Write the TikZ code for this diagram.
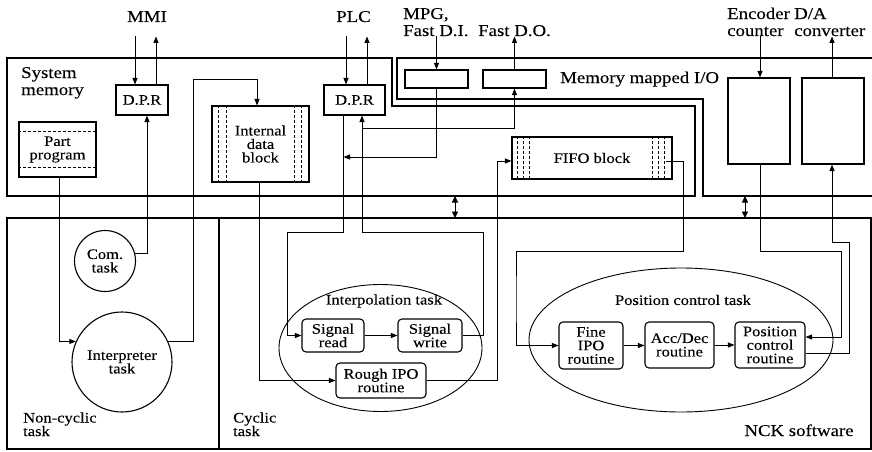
\documentclass[tikz,border=0pt]{standalone}
\usepackage{fontspec}
\setmainfont[FakeStretch=1.14,FakeBold=0.15]{Liberation Serif}
\usetikzlibrary{arrows.meta,shapes.geometric}
\newcommand\lblfont{\fontsize{16.5}{17}\selectfont}
\newcommand\innerfont{\fontsize{14.5}{13.5}\selectfont}
\tikzset{
  region/.style={line width=1.5pt},
  conn/.style={line width=0.9pt},
  arr/.style={conn,-{Triangle[length=6.5pt,width=5pt]}},
  dbl/.style={conn,{Triangle[length=6.5pt,width=6pt]}-{Triangle[length=6.5pt,width=6pt]}},
  box/.style={draw,line width=1.1pt,inner sep=0pt,align=center,font=\innerfont},
  rbox/.style={box,rounded corners=4pt},
  oval/.style={draw,line width=0.9pt,ellipse,inner sep=0pt},
  dsh/.style={dashed,line width=0.8pt,dash pattern=on 3pt off 2pt},
  lbl/.style={inner sep=0pt,font=\lblfont},
  ilbl/.style={inner sep=0pt,font=\innerfont,align=left},
}
\begin{document}
\begin{tikzpicture}[x=1pt,y=-1pt]
\useasboundingbox (0,0) rectangle (872,452);
% regions
\draw[region] (7,58) -- (392,58) -- (392,106) -- (695,106) -- (695,196) -- (7,196) -- cycle;
\draw[region] (872,58) -- (397,58) -- (397,99) -- (703,99) -- (703,196) -- (872,196);
\draw[region] (7,218) rectangle (871,449);
\draw[region] (219,218) -- (219,449);

% region labels (base = last line)
\node[lbl,align=left,anchor=base west] at (21,95) {System\\memory};
\node[lbl,anchor=base west] at (560,83) {Memory mapped I/O};
\node[ilbl,anchor=base west] at (23,436) {Non-cyclic\\task};
\node[ilbl,anchor=base west] at (233,436) {Cyclic\\task};
\node[lbl,anchor=base] at (799,436) {NCK software};

% external labels
\node[lbl,anchor=base] at (147,22) {MMI};
\node[lbl,anchor=base] at (353.5,22) {PLC};
\node[lbl,align=left,anchor=base west] at (403,36) {MPG,\\Fast D.I.};
\node[lbl,anchor=base] at (514.5,36) {Fast D.O.};
\node[lbl,align=left,anchor=base west] at (727,36) {Encoder\\counter};
\node[lbl,align=left,anchor=base west] at (794,36) {D/A\\converter};

% system memory boxes
\node[box,minimum width=52pt,minimum height=30pt] (mmidpr) at (142,100) {D.P.R};
\node[box,minimum width=61pt,minimum height=30pt] (plcdpr) at (354.5,100) {D.P.R};
\node[box,minimum width=77pt,minimum height=55pt] (pp) at (57.5,149.5) {Part\\program};
\draw[dsh] ([yshift=-10pt]pp.north west) -- ([yshift=-10pt]pp.north east);
\draw[dsh] ([yshift=10pt]pp.south west) -- ([yshift=10pt]pp.south east);
\node[box,minimum width=97pt,minimum height=76pt] (idb) at (260.5,144) {Internal\\data\\block};
\foreach \s in {7,15} \draw[dsh] ([xshift=\s pt]idb.north west) -- ([xshift=\s pt]idb.south west);
\foreach \s in {8,15} \draw[dsh] ([xshift=-\s pt]idb.north east) -- ([xshift=-\s pt]idb.south east);

% memory mapped I/O boxes
\node[box,minimum width=63pt,minimum height=18pt] (mpg) at (436.5,79) {};
\node[box,minimum width=63pt,minimum height=18pt] (fdo) at (514.5,79) {};
\node[box,minimum width=160pt,minimum height=42pt] (fifo) at (592,158) {FIFO block};
\foreach \s in {6,12,18} \draw[dsh] ([xshift=\s pt]fifo.north west) -- ([xshift=\s pt]fifo.south west);
\foreach \s in {8,14,20} \draw[dsh] ([xshift=-\s pt]fifo.north east) -- ([xshift=-\s pt]fifo.south east);
\node[box,minimum width=62pt,minimum height=86pt] (enc) at (759,121) {};
\node[box,minimum width=62pt,minimum height=86pt] (da) at (833,121) {};

% non-cyclic tasks
\node[box,circle,minimum size=61pt] (com) at (105,261) {Com.\\task};
\node[box,circle,minimum size=100pt] (interp) at (122,362) {Interpreter\\task};

% interpolation task
\node[oval,minimum width=203pt,minimum height=127pt] (ipol) at (380.5,348) {};
\node[ilbl] at (384,301) {Interpolation task};
\node[rbox,minimum width=62pt,minimum height=33pt] (sread) at (333,335.5) {Signal\\read};
\node[rbox,minimum width=64pt,minimum height=33pt] (swrite) at (430,335.5) {Signal\\write};
\node[rbox,minimum width=90pt,minimum height=35pt] (rough) at (381,380.5) {Rough IPO\\routine};

% position control task
\node[oval,minimum width=304pt,minimum height=144pt] (pctl) at (681,340) {};
\node[ilbl] at (683,300) {Position control task};
\node[rbox,minimum width=64pt,minimum height=47pt] (fine) at (591,345.5) {Fine\\IPO\\routine};
\node[rbox,minimum width=69pt,minimum height=46pt] (acc) at (679.5,345) {Acc/Dec\\routine};
\node[rbox,minimum width=70pt,minimum height=46pt] (pcr) at (770,345) {Position\\control\\routine};

% junctions
\coordinate (j1) at (343.5,157);
\coordinate (j2) at (362,128);

% external I/O arrows
\draw[arr] ([xshift=-7pt,yshift=48pt]mmidpr.north) -- ([xshift=-7pt]mmidpr.north);
\draw[arr] ([xshift=14pt]mmidpr.north) -- ([xshift=14pt,yshift=48pt]mmidpr.north);
\draw[arr] ([xshift=-8.5pt,yshift=48pt]plcdpr.north) -- ([xshift=-8.5pt]plcdpr.north);
\draw[arr] ([xshift=12.5pt]plcdpr.north) -- ([xshift=12.5pt,yshift=48pt]plcdpr.north);
\draw[arr] ([yshift=33pt]mpg.north) -- (mpg.north);
\draw[arr] (fdo.north) -- ([yshift=33pt]fdo.north);
\draw[arr] ([xshift=1pt,yshift=41pt]enc.north) -- ([xshift=1pt]enc.north);
\draw[arr] ([xshift=-1pt]da.north) -- ([xshift=-1pt,yshift=41pt]da.north);

% double arrows between memory and software
\draw[dbl] (455,196) -- (455,218);
\draw[dbl] (745,196) -- (745,218);

% connectors
\draw[arr] (com.15) -| ([xshift=5pt]mmidpr.south);
\draw[arr] ([xshift=1.5pt]pp.south) |- (interp.156);
\draw[arr] (interp.24) -| (193,79) -| ([xshift=-3.5pt]idb.north);
\draw[arr] ([xshift=-1.5pt]idb.south) |- (rough.west);
\draw[arr] (rough.east) -- (497,380.5) |- ([yshift=-3pt]fifo.west);
\draw[arr] ([xshift=-7pt,yshift=-3pt]fifo.east) -| (683,251) -| (516,300) |- (fine.west);
\draw[arr] ([xshift=-11pt]plcdpr.south) |- (287,232) |- (sread.west);
\draw[arr] (mpg.south) |- (j1);
\draw[arr] (swrite.east) -| (483,232) -| ([xshift=7.5pt]plcdpr.south);
\draw[arr] (j2) -| (fdo.south);
\draw[arr] (sread) -- (swrite);
\draw[arr] (fine.east) -- (fine.east -| acc.west);
\draw[arr] (acc.east) -- (acc.east -| pcr.west);
\draw[arr] ([xshift=1pt]enc.south) |- (841,251) |- ([yshift=8pt]pcr.east);
\draw[arr] ([yshift=-8pt]pcr.east) -| (849,242) -| ([xshift=-1pt]da.south);
\end{tikzpicture}
\end{document}
